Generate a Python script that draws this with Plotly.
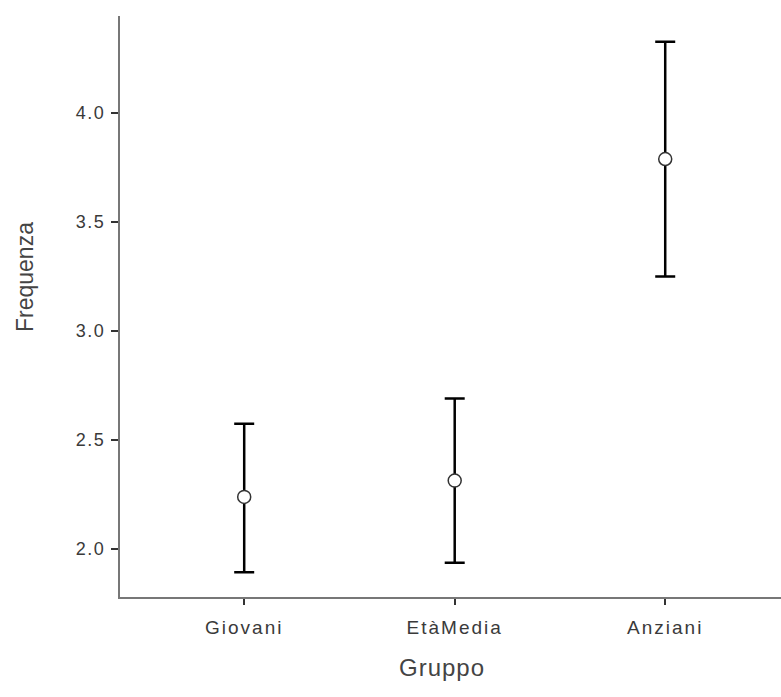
import plotly.graph_objects as go

categories = ["Giovani", "EtàMedia", "Anziani"]
means = [2.239, 2.314, 3.789]
upper = [2.575, 2.690, 4.327]
lower = [1.894, 1.937, 3.250]
y_ticks = [2.0, 2.5, 3.0, 3.5, 4.0]

err_plus = [u - m for u, m in zip(upper, means)]
err_minus = [m - l for m, l in zip(means, lower)]


def spaced(t, px):
    return f'<span style="letter-spacing:{px}px">{t}</span>'


fig = go.Figure()
fig.add_trace(go.Scatter(
    x=categories, y=means, mode="markers",
    marker=dict(size=13, color="white", line=dict(color="#333333", width=1.5)),
    error_y=dict(type="data", symmetric=False, array=err_plus, arrayminus=err_minus,
                 color="black", thickness=2.5, width=10),
    showlegend=False,
))

L, R, T, B = 120, 0, 16, 100
W, H = 781, 697
pw, ph = W - L - R, H - T - B

fig.update_layout(
    width=W, height=H,
    margin=dict(l=L, r=R, t=T, b=B),
    paper_bgcolor="white", plot_bgcolor="white",
    font=dict(family="Liberation Sans, Arial, sans-serif", color="#333333"),
    xaxis=dict(
        range=[-0.59, 2.55], showgrid=False, zeroline=False,
        showline=True, linecolor="#777777", linewidth=2,
        ticks="outside", ticklen=6, tickcolor="#333333", tickwidth=2,
        tickvals=categories, ticktext=[spaced(c, 2) for c in categories],
        tickfont=dict(size=19, color="#3a3a3a"),
        ticklabelstandoff=6,
    ),
    yaxis=dict(
        range=[1.78, 4.445], showgrid=False, zeroline=False,
        showline=True, linecolor="#777777", linewidth=2,
        ticks="outside", ticklen=7, tickcolor="#333333", tickwidth=2,
        tickvals=y_ticks, ticktext=[spaced(f"{v:.1f}", 1.5) for v in y_ticks],
        tickfont=dict(size=18, color="#3a3a3a"),
        ticklabelstandoff=2,
    ),
    annotations=[
        dict(text=spaced("Gruppo", 1), xref="paper", yref="paper",
             x=(442 - L) / pw, y=(H - B - 667) / ph, showarrow=False,
             xanchor="center", yanchor="middle",
             font=dict(size=24, color="#444444")),
        dict(text="Frequenza", xref="paper", yref="paper",
             x=(25 - L) / pw, y=(H - B - 277) / ph, showarrow=False,
             xanchor="center", yanchor="middle", textangle=-90,
             font=dict(size=23, color="#444444")),
    ],
)

fig.write_html("out.html")
